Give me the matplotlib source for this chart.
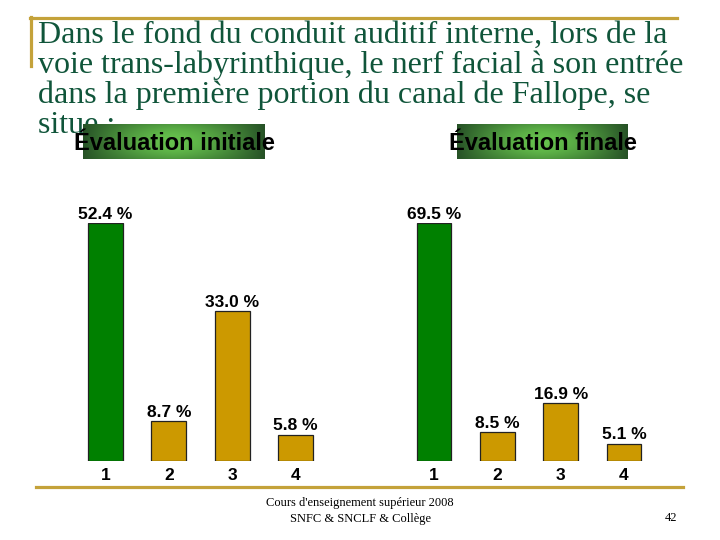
import numpy as np
import matplotlib
matplotlib.use('Agg')
import matplotlib.pyplot as plt
from matplotlib.lines import Line2D

# Data
categories = ['1', '2', '3', '4']
initial_values = [52.4, 8.7, 33.0, 5.8]
final_values = [69.5, 8.5, 16.9, 5.1]
panel_titles = ['Évaluation initiale', 'Évaluation finale']

title_lines = [
    'Dans le fond du conduit auditif interne, lors de la',
    'voie trans-labyrinthique, le nerf facial à son entrée',
    'dans la première portion du canal de Fallope, se',
    'situe :',
]
footer_lines = ['Cours d\'enseignement supérieur 2008', 'SNFC & SNCLF & Collège']
page_number = '42'

GREEN = '#008000'
GOLD = '#CC9900'
RULE = '#C4A23A'
TITLE_COLOR = '#10553A'

W, H = 720, 540
fig = plt.figure(figsize=(7.2, 5.4), dpi=100)
fig.patch.set_facecolor('white')


def fx(px):
    return px / W


def fy(py):
    return 1 - py / H


# Slide title, one text per line to control spacing
for i, line in enumerate(title_lines):
    fig.text(fx(38), fy(43 + 30 * i), line, family='Liberation Serif',
             fontsize=23, color=TITLE_COLOR, va='baseline', ha='left')

# Gold rules of the slide template
fig.add_artist(Line2D([fx(30), fx(677)], [fy(17.5), fy(17.5)], color=RULE, lw=2.3))
fig.add_artist(Line2D([fx(31), fx(31)], [fy(17), fy(66)], color=RULE, lw=2.3))
fig.add_artist(Line2D([fx(36), fx(683)], [fy(486.5), fy(486.5)], color=RULE, lw=2.3))

# Bar panels
panels = [(73.85, initial_values), (402.4, final_values)]
for left, values in panels:
    ax = fig.add_axes([fx(left), fy(461), fx(253.2), 238 / H])
    x = np.arange(1, len(categories) + 1)
    colors = [GREEN] + [GOLD] * (len(values) - 1)
    bars = ax.bar(x, values, width=0.55, color=colors, edgecolor='#222222', linewidth=0.9)
    ax.bar_label(bars, labels=['%.1f %%' % v for v in values], padding=1,
                 family='Liberation Sans', fontweight='bold', fontsize=12.5, clip_on=False)
    ax.set_xlim(0.5, 4.5)
    ax.set_ylim(0, max(values))
    ax.set_xticks(x)
    ax.set_xticklabels(categories, family='Liberation Sans', fontweight='bold', fontsize=12.5)
    ax.tick_params(axis='x', length=0, pad=5)
    ax.set_yticks([])
    for s in ax.spines.values():
        s.set_visible(False)
    ax.patch.set_alpha(0)

# Panel headers on a green gradient box
xs = np.linspace(-1, 1, 200)
ys = np.linspace(-1, 1, 40)
gx, gy = np.meshgrid(xs, ys)
shade = (1 - np.abs(gx) ** 1.6) * (1 - 0.35 * gy ** 2)
dark = np.array([0.15, 0.32, 0.15])
light = np.array([0.40, 0.76, 0.30])
grad = dark + (light - dark) * shade[..., None]

boxes = [(83, 265), (457, 628)]
for (x0, x1), label in zip(boxes, panel_titles):
    hax = fig.add_axes([fx(x0), fy(159), fx(x1 - x0), 35 / H], zorder=5)
    hax.imshow(grad, aspect='auto', extent=(0, 1, 0, 1))
    hax.set_xlim(0, 1)
    hax.set_ylim(0, 1)
    hax.axis('off')
    hax.text(0.5, 0.45, label, ha='center', va='center', family='Liberation Sans',
             fontweight='bold', fontsize=17, color='black', clip_on=False)

# Footer
for i, line in enumerate(footer_lines):
    fig.text(fx(360), fy(503 + 16 * i), line, family='Liberation Serif',
             fontsize=9, ha='center', va='center')
fig.text(fx(671), fy(518), page_number, family='Liberation Serif', fontsize=9,
         ha='center', va='center')

fig.savefig('out.png', dpi=100)
